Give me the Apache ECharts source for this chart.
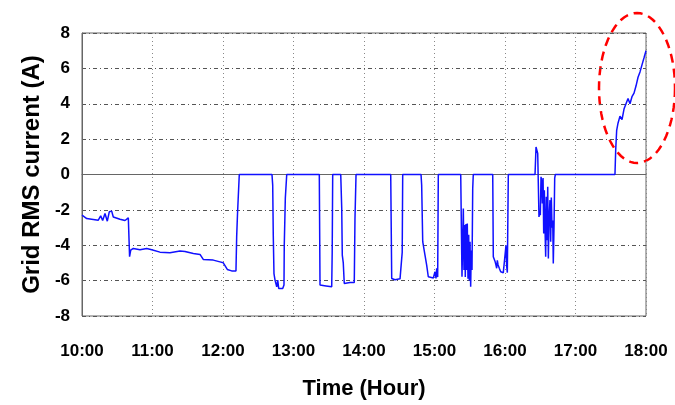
<!DOCTYPE html>
<html>
<head>
<meta charset="UTF-8">
<script src="https://cdn.jsdelivr.net/npm/echarts@6/dist/echarts.min.js"></script>
<style>
  * { margin: 0; padding: 0; }
  body { background: #fff; }
  #main { width: 675px; height: 405px; }
</style>
</head>
<body>
<div id="main"></div>
<script>
// time in hours (10 = 10:00)
var times = [10.000, 10.067, 10.160, 10.231, 10.265, 10.293, 10.326, 10.359, 10.387, 10.421,
  10.444, 10.468, 10.539, 10.610, 10.657, 10.671, 10.675, 10.691, 10.728, 10.823,
  10.918, 10.989, 11.106, 11.248, 11.390, 11.461, 11.579, 11.674, 11.720, 11.862,
  11.957, 12.004, 12.061, 12.123, 12.184, 12.194, 12.206, 12.231, 12.695, 12.705,
  12.713, 12.723, 12.738, 12.762, 12.776, 12.790, 12.809, 12.847, 12.865, 12.869,
  12.884, 12.904, 13.366, 13.376, 13.390, 13.461, 13.542, 13.549, 13.556, 13.670,
  13.684, 13.692, 13.706, 13.720, 13.801, 13.862, 13.872, 13.887, 14.379, 14.393,
  14.440, 14.511, 14.535, 14.542, 14.549, 14.809, 14.818, 14.833, 14.865, 14.889,
  14.912, 14.936, 14.983, 15.007, 15.021, 15.031, 15.045, 15.054, 15.372, 15.390,
  15.409, 15.418, 15.428, 15.437, 15.447, 15.457, 15.465, 15.475, 15.485, 15.494,
  15.504, 15.513, 15.521, 15.532, 15.542, 15.550, 15.826, 15.834, 15.858, 15.872,
  15.882, 15.891, 15.901, 15.919, 15.939, 15.976, 16.000, 16.014, 16.024, 16.033,
  16.038, 16.047, 16.426, 16.440, 16.450, 16.464, 16.473, 16.482, 16.492, 16.501,
  16.511, 16.521, 16.530, 16.540, 16.549, 16.558, 16.567, 16.577, 16.586, 16.596,
  16.606, 16.615, 16.624, 16.638, 16.648, 16.657, 16.667, 16.677, 16.685, 16.695,
  16.705, 16.714, 17.560, 17.570, 17.584, 17.603, 17.631, 17.660, 17.688, 17.716,
  17.745, 17.773, 17.801, 17.830, 17.858, 17.887, 17.915, 17.943, 17.972, 18.000];

var current = [-2.30, -2.49, -2.54, -2.58, -2.34, -2.60, -2.20, -2.64, -2.11, -2.07,
  -2.40, -2.48, -2.53, -2.60, -2.45, -2.50, -4.65, -4.28, -4.18, -4.25,
  -4.18, -4.25, -4.39, -4.43, -4.33, -4.35, -4.47, -4.52, -4.80, -4.84,
  -4.94, -4.99, -5.37, -5.45, -5.46, -3.50, -2.20, 0, 0, -0.60,
  -3.43, -5.60, -5.97, -6.35, -5.97, -6.44, -6.45, -6.45, -6.25, -4.00,
  -1.34, 0, 0, -6.25, -6.35, -6.30, -6.35, -4.37, 0, 0,
  -1.90, -4.56, -5.00, -6.16, -6.10, -6.10, -2.50, 0, 0, -5.88,
  -5.95, -5.90, -6.00, -4.40, 0, 0, -0.60, -3.80, -4.56, -5.12,
  -5.78, -5.88, -5.85, -5.50, -5.88, -5.30, -5.80, 0, 0, -5.78,
  -1.92, -5.40, -2.86, -5.80, -2.80, -5.40, -2.77, -5.90, -3.40, -6.00,
  -3.80, -6.35, -4.30, -5.40, -0.80, 0, 0, -4.65, -4.90, -5.12,
  -5.30, -4.85, -5.10, -5.30, -5.50, -5.55, -5.50, -4.00, -5.20, -5.55,
  -3.50, 0, 0, 1.56, 1.66, 1.19, 1.30, -2.40, -2.10, -2.30,
  -0.13, -0.40, -1.64, -0.20, -3.33, -0.89, -2.96, -4.65, -1.26, -3.71,
  -0.70, -4.75, -2.60, -1.45, -3.80, -1.30, -3.00, -2.60, -5.03, -3.00,
  -0.20, 0, 0, 1.37, 2.50, 2.90, 3.30, 3.10, 3.70, 3.60,
  4.30, 4.00, 4.40, 4.60, 5.00, 5.50, 5.80, 6.20, 6.60, 7.00];

var seriesData = times.map(function (t, i) { return [t, current[i]]; });

// red dashed ellipse round the end of the curve
var ell = [];
for (var k = 0; k < 72; k++) {
    var a = k / 72 * Math.PI * 2;
    ell.push([637 + 38 * Math.cos(a), 88 + 75 * Math.sin(a)]);
}

var font = '"Liberation Sans", Arial, sans-serif';
var chart = echarts.init(document.getElementById('main'));
chart.setOption({
    animation: false,
    grid: { left: 82, right: 29, top: 33, bottom: 88, show: true, borderColor: '#666', borderWidth: 1 },
    xAxis: {
        type: 'value', min: 10, max: 18, interval: 1,
        name: 'Time (Hour)', nameLocation: 'middle', nameGap: 62,
        nameTextStyle: { fontFamily: font, fontWeight: 'bold', fontSize: 22, color: '#000' },
        axisLine: { lineStyle: { color: '#666' } },
        axisTick: { show: false },
        axisLabel: {
            margin: 27, fontFamily: font, fontWeight: 'bold', fontSize: 17, color: '#000',
            formatter: function (v) { return v + ':00'; }
        },
        splitLine: { show: true, lineStyle: { color: '#888', type: [1, 3] } }
    },
    yAxis: {
        type: 'value', min: -8, max: 8, interval: 2,
        name: 'Grid RMS current (A)', nameLocation: 'middle', nameGap: 38,
        nameTextStyle: { fontFamily: font, fontWeight: 'bold', fontSize: 24, color: '#000' },
        axisLine: { show: true, lineStyle: { color: '#666' } },
        axisTick: { show: false },
        axisLabel: { margin: 12, fontFamily: font, fontWeight: 'bold', fontSize: 17, color: '#000' },
        splitLine: { show: true, lineStyle: { color: '#555', type: [4, 3, 1, 3] } }
    },
    series: [{
        type: 'line', data: seriesData, showSymbol: false,
        lineStyle: { color: '#1010ff', width: 1.5 }
    }],
    graphic: [{
        type: 'polygon', silent: true,
        shape: { points: ell },
        style: { fill: 'none', stroke: '#ff0000', lineWidth: 2.5, lineDash: [9, 6] }
    }]
});
</script>
</body>
</html>
